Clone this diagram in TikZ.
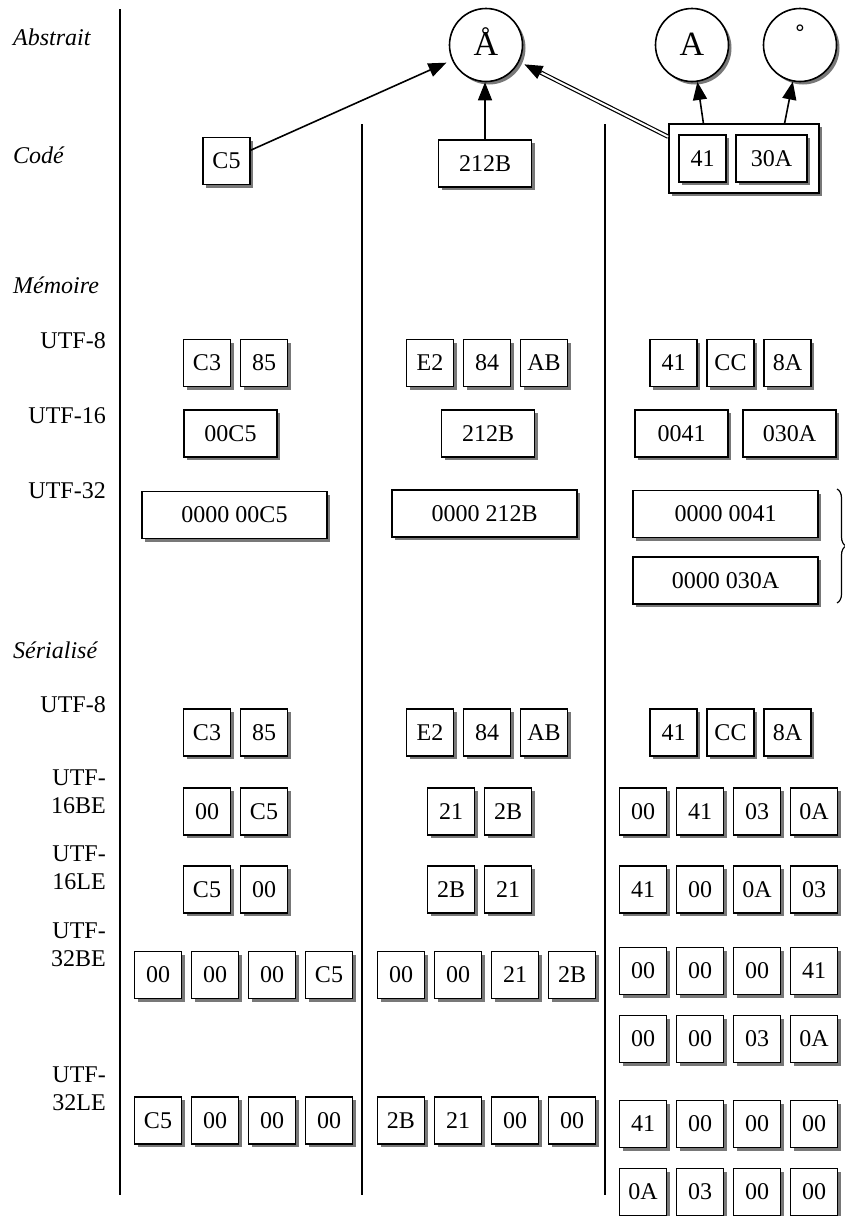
\documentclass[tikz,border=0pt]{standalone}
\usepackage{fontspec}
\setmainfont{Liberation Serif}
\usetikzlibrary{arrows.meta,shadows,decorations.pathreplacing,calc}
\definecolor{shadowC}{RGB}{120,120,120}

\tikzset{
  byte/.style={draw, line width=1.6pt, fill=white, minimum width=47pt, minimum height=47pt,
    inner sep=0pt, font=\fontsize{24}{28}\selectfont,
    drop shadow={shadow xshift=3pt, shadow yshift=-3pt, fill=shadowC, opacity=1}},
  wide/.style={byte, minimum width=93pt},
  quad/.style={byte, minimum width=185pt},
  glyph/.style={circle, draw, line width=1.6pt, fill=white, minimum size=73pt, inner sep=0pt,
    text height=20pt, text depth=0pt, font=\fontsize{34}{34}\selectfont,
    drop shadow={shadow xshift=3pt, shadow yshift=-3pt, fill=shadowC, opacity=1}},
  level/.style={anchor=base west, inner sep=0pt, font=\fontsize{24}{28}\selectfont\itshape},
  enc/.style={anchor=east, align=right, inner sep=0pt, font=\fontsize{24}{28}\selectfont},
  arr/.style={line width=1.6pt, -{Triangle[length=18pt,width=14pt]}},
  sep/.style={line width=1.8pt}
}

\begin{document}
\begin{tikzpicture}[x=1pt, y=-1pt]
\useasboundingbox (0,0) rectangle (845,1216);

% Column separators
\draw[sep] (120,9) -- (120,1195);
\draw[sep] (362,124) -- (362,1195);
\draw[sep] (605,124) -- (605,1195);

% Level labels
\node[level] (lAbs) at (13,45) {Abstrait};
\node[level] (lCod) at (13,163) {Codé};
\node[level] (lMem) at (13,293) {Mémoire};
\node[level] (lSer) at (13,658) {Sérialisé};

% Encoding labels
\node[enc, anchor=base east] (eM8) at (106,348) {UTF-8};
\node[enc, anchor=base east] (eM16) at (106,423) {UTF-16};
\node[enc, anchor=base east] (eM32) at (106,498) {UTF-32};
\node[enc, anchor=base east] (eS8) at (106,712) {UTF-8};
\node[enc] (eS16be) at (106,792) {UTF-\\16BE};
\node[enc] (eS16le) at (106,868) {UTF-\\16LE};
\node[enc] (eS32be) at (106,945) {UTF-\\32BE};
\node[enc] (eS32le) at (106,1089) {UTF-\\32LE};

% Abstract characters
\node[glyph] (absAring) at (486,45) {Å};
\node[glyph] (absA) at (692,45) {A};
\node[glyph] (absRing) at (800,45) {\raisebox{6pt}{˚}};

% Code points
\node[byte] (code5) at (226.5,161) {C5};
\node[wide] (code2) at (485,163.5) {212B};
\node[draw, line width=1.6pt, fill=white, minimum width=150pt, minimum height=69pt,
  drop shadow={shadow xshift=3pt, shadow yshift=-3pt, fill=shadowC, opacity=1}]
  (seq) at (744,158.5) {};
\node[byte] (c41) at (702.5,158.5) {41};
\node[byte, minimum width=71pt] (c30a) at (771.5,158.5) {30A};

\draw[arr, shorten >=6pt] (code5) -- (absAring);
\draw[arr] (code2.north) -- (code2.north |- absAring.south);
% double line, tip drawn on its own
\draw[double, double distance=2pt, line width=1.2pt]
  (seq.164) -- ($(absAring)!58pt!(seq.164)$);
\draw[arr] ($(absAring)!62pt!(seq.164)$) -- ($(absAring)!43pt!(seq.164)$);
\draw[arr] (seq.139) -- (absA);
\draw[arr] (seq.41) -- (absRing);

% Memoire: UTF-8
\foreach \t [count=\i] in {C3,85}
  \node[byte] (m8a\i) at ({207+57*(\i-1)},363) {\t};
\foreach \t [count=\i] in {E2,84,AB}
  \node[byte] (m8b\i) at ({430+57*(\i-1)},363) {\t};
\foreach \t [count=\i] in {41,CC,8A}
  \node[byte] (m8c\i) at ({673.5+57*(\i-1)},363) {\t};

% Memoire: UTF-16
\node[wide] (m16a) at (230.5,433.5) {00C5};
\node[wide] (m16b) at (488,433.5) {212B};
\node[wide] (m16c1) at (681.5,433.5) {0041};
\node[wide] (m16c2) at (789.5,433.5) {030A};

% Memoire: UTF-32
\node[quad] (m32a) at (234.5,515) {0000 00C5};
\node[quad] (m32b) at (484.5,513.5) {0000 212B};
\node[quad] (m32c1) at (725.5,514) {0000 0041};
\node[quad] (m32c2) at (725.5,580.5) {0000 030A};
\draw[line width=1.2pt, decorate, decoration={brace, amplitude=9pt}]
  (837,489) -- (837,603);

% Serialise: UTF-8
\foreach \t [count=\i] in {C3,85}
  \node[byte] (s8a\i) at ({207+57*(\i-1)},732.5) {\t};
\foreach \t [count=\i] in {E2,84,AB}
  \node[byte] (s8b\i) at ({430+57*(\i-1)},732.5) {\t};
\foreach \t [count=\i] in {41,CC,8A}
  \node[byte] (s8c\i) at ({673.5+57*(\i-1)},732.5) {\t};

% Serialise: UTF-16BE and UTF-16LE
\foreach \t [count=\i] in {00,C5}
  \node[byte] (s16ba\i) at ({207+57*(\i-1)},811.5) {\t};
\foreach \t [count=\i] in {21,2B}
  \node[byte] (s16bb\i) at ({451+57*(\i-1)},811.5) {\t};
\foreach \t [count=\i] in {00,41,03,0A}
  \node[byte] (s16bc\i) at ({643+57*(\i-1)},811.5) {\t};
\foreach \t [count=\i] in {C5,00}
  \node[byte] (s16la\i) at ({207+57*(\i-1)},889.5) {\t};
\foreach \t [count=\i] in {2B,21}
  \node[byte] (s16lb\i) at ({451+57*(\i-1)},889.5) {\t};
\foreach \t [count=\i] in {41,00,0A,03}
  \node[byte] (s16lc\i) at ({643+57*(\i-1)},889.5) {\t};

% Serialise: UTF-32BE
\foreach \t [count=\i] in {00,00,00,C5}
  \node[byte] (s32ba\i) at ({158+57*(\i-1)},975) {\t};
\foreach \t [count=\i] in {00,00,21,2B}
  \node[byte] (s32bb\i) at ({401+57*(\i-1)},975) {\t};
\foreach \t [count=\i] in {00,00,00,41}
  \node[byte] (s32bc\i) at ({643+57*(\i-1)},971) {\t};
\foreach \t [count=\i] in {00,00,03,0A}
  \node[byte] (s32bd\i) at ({643+57*(\i-1)},1039) {\t};

% Serialise: UTF-32LE
\foreach \t [count=\i] in {C5,00,00,00}
  \node[byte] (s32la\i) at ({158+57*(\i-1)},1120.5) {\t};
\foreach \t [count=\i] in {2B,21,00,00}
  \node[byte] (s32lb\i) at ({401+57*(\i-1)},1120.5) {\t};
\foreach \t [count=\i] in {41,00,00,00}
  \node[byte] (s32lc\i) at ({643+57*(\i-1)},1124) {\t};
\foreach \t [count=\i] in {0A,03,00,00}
  \node[byte] (s32ld\i) at ({643+57*(\i-1)},1192) {\t};
\end{tikzpicture}
\end{document}
